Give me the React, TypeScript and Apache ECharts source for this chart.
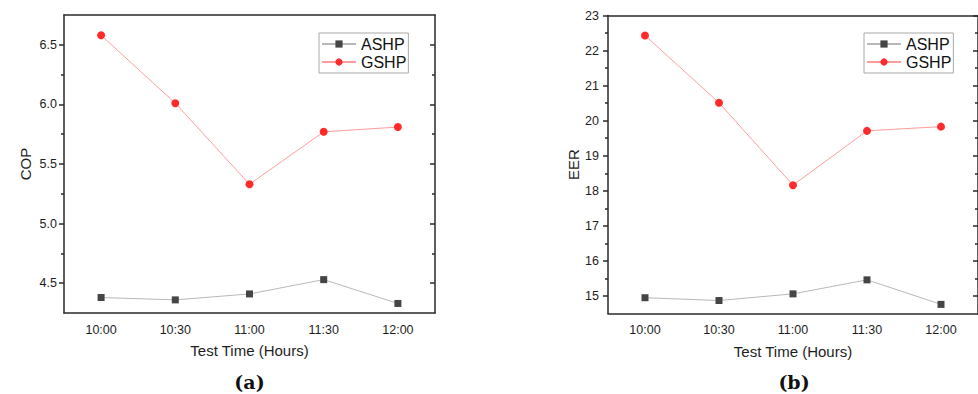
import React, { useEffect, useRef } from "react";
import * as echarts from "echarts";

const categories = ["10:00", "10:30", "11:00", "11:30", "12:00"];
const copASHP = [4.38, 4.36, 4.41, 4.53, 4.33];
const copGSHP = [6.58, 6.01, 5.33, 5.77, 5.81];
const eerASHP = [14.95, 14.87, 15.06, 15.46, 14.76];
const eerGSHP = [22.43, 20.51, 18.16, 19.71, 19.83];
const copMajor = [4.5, 5.0, 5.5, 6.0, 6.5];
const copMinor = [4.75, 5.25, 5.75, 6.25];
const eerMajor = [15, 16, 17, 18, 19, 20, 21, 22, 23];
const eerMinor = [15.5, 16.5, 17.5, 18.5, 19.5, 20.5, 21.5, 22.5];
const seriesNames = ["ASHP", "GSHP"];
const panelLabels = ["(a)", "(b)"];

const FONT = "Liberation Sans";
const AXIS = { color: "#2a2a2a", width: 1.5 };

export default function App() {
  const ref = useRef<HTMLDivElement>(null);
  useEffect(() => {
    if (!ref.current) return;
    const chart = echarts.init(ref.current, null, { renderer: "svg" });

    const grids = [
      { left: 64, top: 15, width: 371, height: 298 },
      { left: 608, top: 15.5, width: 371.5, height: 298 },
    ];
    const panels = [
      { name: "COP", min: 4.25, max: 6.75, major: copMajor, minor: copMinor, dec: 1, gap: 31, lm: 7, a: copASHP, g: copGSHP },
      { name: "EER", min: 14.5, max: 23, major: eerMajor, minor: eerMinor, dec: 0, gap: 27, lm: 9, a: eerASHP, g: eerGSHP },
    ];

    const xAxis: any[] = [];
    const yAxis: any[] = [];
    const series: any[] = [];
    const legend: any[] = [];
    const graphic: any[] = [];
    const legendLeft = [319, 864];
    const labelX = [249.5, 794];

    panels.forEach((p, i) => {
      xAxis.push({
        type: "category", gridIndex: i, position: "bottom", data: categories, boundaryGap: true,
        axisLine: { lineStyle: AXIS },
        axisTick: { alignWithLabel: true, inside: false, length: 5, lineStyle: AXIS },
        axisLabel: { margin: 10, fontSize: 12.5, color: "#1e1e1e", fontFamily: FONT },
        name: "Test Time (Hours)", nameLocation: "middle", nameGap: 30,
        nameTextStyle: { fontSize: 15, color: "#1e1e1e", fontFamily: FONT },
      });
      xAxis.push({
        type: "category", gridIndex: i, position: "top", data: categories, boundaryGap: true,
        axisLine: { lineStyle: AXIS },
        axisTick: { alignWithLabel: true, inside: true, length: 5, lineStyle: AXIS },
        axisLabel: { show: false },
      });
      const base = { type: "value", gridIndex: i, min: p.min, max: p.max, splitLine: { show: false } };
      yAxis.push({
        ...base, position: "left",
        axisLine: { show: true, lineStyle: AXIS },
        axisTick: { show: true, inside: false, length: 5, lineStyle: AXIS, customValues: p.major },
        axisLabel: {
          customValues: p.major, margin: p.lm, fontSize: 12.5, color: "#1e1e1e", fontFamily: FONT,
          formatter: (v: number) => v.toFixed(p.dec),
        },
        name: p.name, nameLocation: "middle", nameGap: p.gap, nameRotate: 90,
        nameTextStyle: { fontSize: 15, color: "#1e1e1e", fontFamily: FONT },
      });
      yAxis.push({
        ...base, position: "left",
        axisLine: { show: false },
        axisTick: { show: true, inside: false, length: 3, lineStyle: AXIS, customValues: p.minor },
        axisLabel: { show: false, customValues: p.minor },
      });
      yAxis.push({
        ...base, position: "right",
        axisLine: { show: true, lineStyle: AXIS },
        axisTick: { show: true, inside: true, length: 5, lineStyle: AXIS, customValues: p.major },
        axisLabel: { show: false, customValues: p.major },
      });
      yAxis.push({
        ...base, position: "right",
        axisLine: { show: false },
        axisTick: { show: true, inside: true, length: 3, lineStyle: AXIS, customValues: p.minor },
        axisLabel: { show: false, customValues: p.minor },
      });
      series.push({
        type: "line", name: seriesNames[0], xAxisIndex: i * 2, yAxisIndex: i * 4, data: p.a,
        symbol: "rect", symbolSize: 7, itemStyle: { color: "#454545" },
        lineStyle: { color: "#b8b8b8", width: 1 },
      });
      series.push({
        type: "line", name: seriesNames[1], xAxisIndex: i * 2, yAxisIndex: i * 4, data: p.g,
        symbol: "circle", symbolSize: 8, itemStyle: { color: "#ff2b2b" },
        lineStyle: { color: "#ff9c9c", width: 1 },
      });
      legend.push({
        left: legendLeft[i], top: 33, orient: "vertical", data: seriesNames,
        itemWidth: 34, itemHeight: 9, itemGap: 2, padding: [3, 2, 3, 2],
        borderColor: "#a8a8a8", borderWidth: 1, backgroundColor: "#fff",
        selectedMode: false,
        textStyle: { fontSize: 16, color: "#111", fontFamily: FONT },
      });
      graphic.push({
        type: "text", x: labelX[i], y: 382,
        style: {
          text: panelLabels[i], textAlign: "center", textVerticalAlign: "middle",
          font: "bold 19px 'DejaVu Serif'", fill: "#111",
        },
      });
    });

    chart.setOption({
      animation: false,
      backgroundColor: "#fff",
      grid: grids,
      xAxis,
      yAxis,
      series,
      legend,
      graphic,
    });
    return () => chart.dispose();
  }, []);
  return <div ref={ref} style={{ position: "absolute", left: 0, top: 0, width: 978, height: 394 }} />;
}
